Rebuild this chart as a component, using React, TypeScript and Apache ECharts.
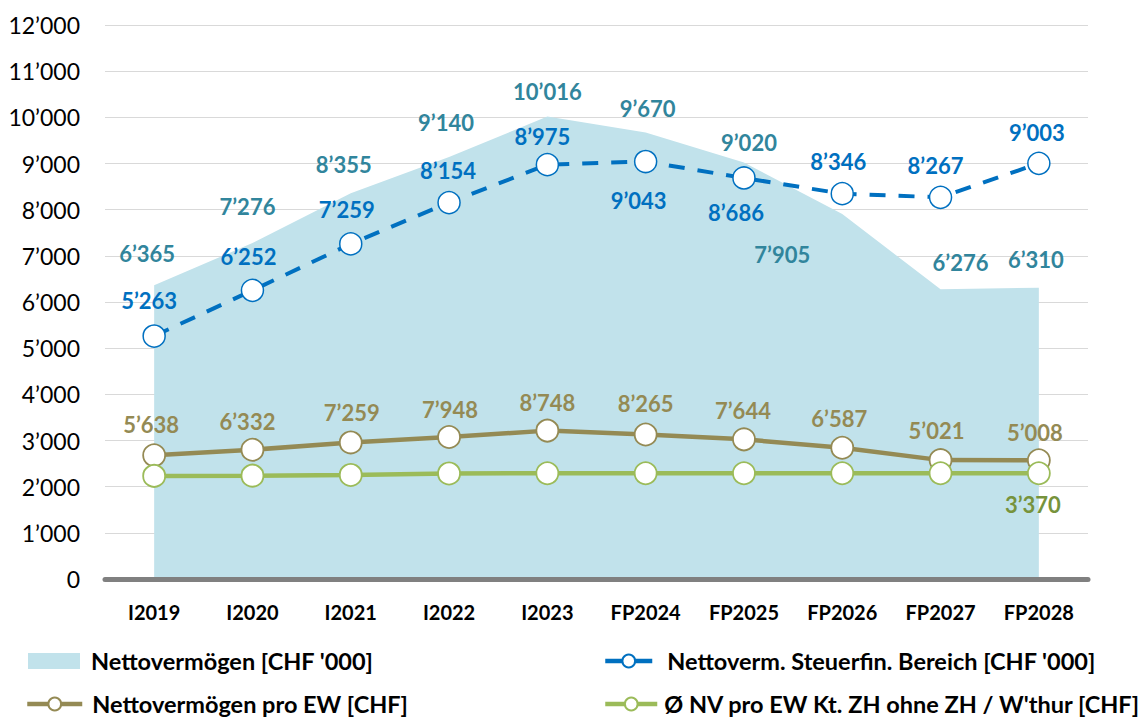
import React, { useEffect, useRef } from "react";
import * as echarts from "echarts";

const categories = ["I2019", "I2020", "I2021", "I2022", "I2023", "FP2024", "FP2025", "FP2026", "FP2027", "FP2028"];
const nettovermoegen = [6365, 7276, 8355, 9140, 10016, 9670, 9020, 7905, 6276, 6310];
const steuerfinBereich = [5263, 6252, 7259, 8154, 8975, 9043, 8686, 8346, 8267, 9003];
const nvProEW = [5638, 6332, 7259, 7948, 8748, 8265, 7644, 6587, 5021, 5008];
const kantonProEW = [3030, 3060, 3150, 3340, 3360, 3370, 3370, 3370, 3370, 3370];
const kantonLabelShown = [false, false, false, false, false, false, false, false, false, true];

const seriesNames = [
  "Nettovermögen [CHF '000]",
  "Nettoverm. Steuerfin. Bereich [CHF '000]",
  "Nettovermögen pro EW [CHF]",
  "Ø NV pro EW Kt. ZH ohne ZH / W'thur [CHF]",
];

// label placement (pixel offsets of label centre from its point)
const areaLabelOffsets = [[-7, -32], [-5, -37], [-7, -29], [-3, -35], [0, -25], [2, -24], [5, -20], [-60, 40], [20, -27], [-3, -28]];
const blueLabelOffsets = [[-5, -36], [-4, -34], [-4, -34], [-1, -32], [-5, -28], [-7, 39], [-8, 35], [-4, -32], [-5, -32], [-2, -31]];
const brownLabelOffsets = [[-3, -31], [-5, -28], [1, -30], [1, -27], [0, -28], [0, -31], [-1, -29], [-3, -29], [-4, -30], [-4, -28]];
const greenLabelOffsets = [[0, 31], [0, 31], [0, 31], [0, 31], [0, 31], [0, 31], [0, 31], [0, 31], [0, 31], [-6, 31]];

// legend placement: [left, top, itemWidth, textGap]
const legendPlacement = [
  [28, 649, 52, 6],
  [603, 649, 47, 10],
  [25, 692, 55, 5],
  [603, 692, 52, 2],
];

const FONT = "Lato, 'Open Sans', sans-serif";
const fmt = (n: number) => String(n).replace(/\B(?=(\d{3})+(?!\d))/g, "\u2019");

const C_AREA = "#C1E2EB";
const C_AREA_LBL = "#31859C";
const C_BLUE = "#0070C0";
const C_BROWN = "#948A54";
const C_GREEN = "#9BBB59";
const C_GREEN_LBL = "#77933C";
const legendLineColors = [C_AREA, C_BLUE, C_BROWN, C_GREEN];

function labelBase(color: string) {
  return {
    show: true,
    position: "inside" as const,
    color,
    fontFamily: FONT,
    fontWeight: "bold" as const,
    fontSize: 22,
    formatter: (p: any) => fmt(p.value),
  };
}

export default function App() {
  const ref = useRef<HTMLDivElement>(null);
  useEffect(() => {
    if (!ref.current) return;
    const chart = echarts.init(ref.current, undefined, { renderer: "svg" });
    const legends = seriesNames.map((name, i) => {
      const [left, top, w, gap] = legendPlacement[i];
      return {
        orient: "horizontal",
        left,
        top,
        padding: 0,
        itemWidth: w,
        itemHeight: 16,
        selectedMode: false,
        lineStyle: { width: 4.5, type: "solid", color: legendLineColors[i] },
        textStyle: {
          color: "#000",
          fontFamily: FONT,
          fontWeight: "bold",
          fontSize: 23.5,
          lineHeight: 22,
          padding: [0, 0, 0, gap],
        },
        data: [i === 0 ? { name, icon: "rect", itemStyle: { color: C_AREA } } : { name }],
      };
    });
    const option: any = {
      animation: false,
      backgroundColor: "#ffffff",
      textStyle: { fontFamily: FONT },
      grid: { left: 105, right: 60, top: 25, bottom: 139 },
      xAxis: {
        type: "category",
        data: categories,
        boundaryGap: true,
        axisLine: { show: true, lineStyle: { color: "#808080", width: 5 } },
        axisTick: { show: false },
        axisLabel: { color: "#000", fontFamily: FONT, fontWeight: "bold", fontSize: 20, margin: 23 },
        z: 10,
      },
      yAxis: [
        {
          type: "value",
          min: 0,
          max: 12000,
          interval: 1000,
          axisLine: { show: false },
          axisTick: { show: false },
          splitLine: { lineStyle: { color: "#D9D9D9", width: 1 } },
          axisLabel: { color: "#000", fontFamily: FONT, fontSize: 23, margin: 25, formatter: (v: number) => fmt(v) },
        },
        {
          type: "value",
          min: -10000,
          max: 60000,
          interval: 10000,
          show: false,
          splitLine: { show: false },
        },
      ],
      legend: legends,
      series: [
        {
          name: seriesNames[0],
          type: "line",
          yAxisIndex: 0,
          silent: true,
          z: 1,
          symbol: "circle",
          symbolSize: 1,
          showSymbol: true,
          itemStyle: { color: "rgba(0,0,0,0)" },
          lineStyle: { width: 0, color: C_AREA },
          areaStyle: { color: C_AREA, opacity: 1 },
          label: labelBase(C_AREA_LBL),
          data: nettovermoegen.map((v, i) => ({ value: v, label: { offset: areaLabelOffsets[i] } })),
        },
        {
          name: seriesNames[1],
          type: "line",
          yAxisIndex: 0,
          silent: true,
          z: 4,
          symbol: "circle",
          symbolSize: 22,
          showSymbol: true,
          itemStyle: { color: "#ffffff", borderColor: C_BLUE, borderWidth: 1.5 },
          lineStyle: { color: C_BLUE, width: 4, type: [16, 13] },
          label: labelBase(C_BLUE),
          data: steuerfinBereich.map((v, i) => ({ value: v, label: { offset: blueLabelOffsets[i] } })),
        },
        {
          name: seriesNames[2],
          type: "line",
          yAxisIndex: 1,
          silent: true,
          z: 2,
          symbol: "circle",
          symbolSize: 22,
          showSymbol: true,
          itemStyle: { color: "#ffffff", borderColor: C_BROWN, borderWidth: 1.8 },
          lineStyle: { color: C_BROWN, width: 4.5 },
          label: labelBase(C_BROWN),
          data: nvProEW.map((v, i) => ({ value: v, label: { offset: brownLabelOffsets[i] } })),
        },
        {
          name: seriesNames[3],
          type: "line",
          yAxisIndex: 1,
          silent: true,
          z: 3,
          symbol: "circle",
          symbolSize: 22,
          showSymbol: true,
          itemStyle: { color: "#ffffff", borderColor: C_GREEN, borderWidth: 1.8 },
          lineStyle: { color: C_GREEN, width: 4.5 },
          label: labelBase(C_GREEN_LBL),
          data: kantonProEW.map((v, i) => ({
            value: v,
            label: { show: kantonLabelShown[i], offset: greenLabelOffsets[i] },
          })),
        },
      ],
    };
    chart.setOption(option);
    return () => chart.dispose();
  }, []);
  return (
    <div
      ref={ref}
      style={{ position: "absolute", left: 0, top: 0, width: 1148, height: 718 }}
    />
  );
}
